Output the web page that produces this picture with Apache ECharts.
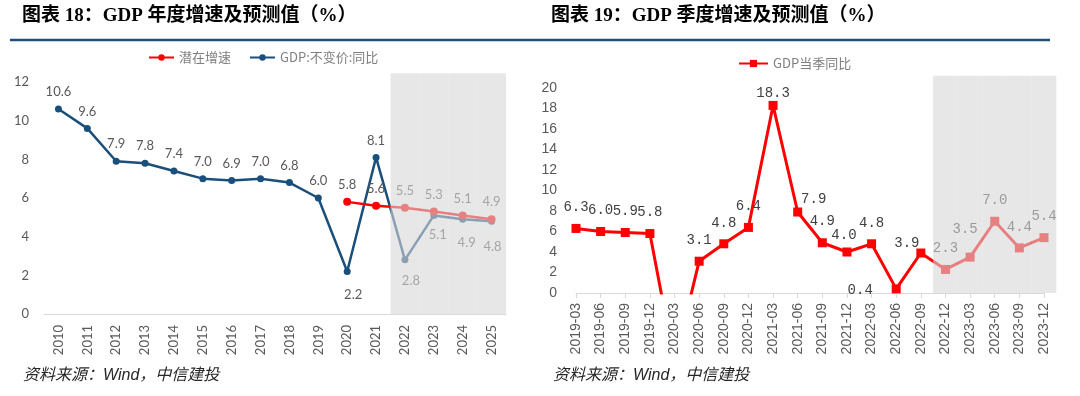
<!DOCTYPE html>
<html>
<head>
<meta charset="utf-8">
<script src="https://cdn.jsdelivr.net/npm/echarts@6/dist/echarts.min.js"></script>
<style>
html, body { margin: 0; padding: 0; background: #fff; }
#chart { width: 1080px; height: 396px; }
</style>
</head>
<body>
<div id="chart"></div>
<script>
// 图表18 年度数据
const years = ['2010', '2011', '2012', '2013', '2014', '2015', '2016', '2017',
  '2018', '2019', '2020', '2021', '2022', '2023', '2024', '2025']
const gdpYoy = [10.6, 9.6, 7.9, 7.8, 7.4, 7.0, 6.9, 7.0, 6.8, 6.0, 2.2, 8.1, 2.8, 5.1, 4.9, 4.8]
const potentialGrowth = [null, null, null, null, null, null, null, null, null, null,
  5.8, 5.6, 5.5, 5.3, 5.1, 4.9]
const yearAxisTicks = { min: 0, max: 12, interval: 2 }
const yearForecastFrom = '2022'
const yearShadeTop = 12.45

// 图表19 季度数据
const quarters = ['2019-03', '2019-06', '2019-09', '2019-12', '2020-03', '2020-06', '2020-09',
  '2020-12', '2021-03', '2021-06', '2021-09', '2021-12', '2022-03', '2022-06', '2022-09',
  '2022-12', '2023-03', '2023-06', '2023-09', '2023-12']
const gdpQuarterYoy = [6.3, 6.0, 5.9, 5.8, -6.8, 3.1, 4.8, 6.4, 18.3, 7.9, 4.9, 4.0, 4.8, 0.4, 3.9,
  2.3, 3.5, 7.0, 4.4, 5.4]
const quarterAxisTicks = { min: 0, max: 20, interval: 2 }
const quarterForecastFrom = '2022-12'
const quarterShadeTop = 21.2

// label placement tweaks (index -> [dx, dy] from point centre)
const gdpLabelOffset = { 10: [6, 23], 12: [6, 21], 13: [4, 19], 14: [4, 24], 15: [1, 26] }
const quarterLabelOffset = { 8: [0, -12], 9: [16, -13], 11: [-3, -17], 13: [-36, 1], 14: [-14, -10], 16: [-5, -28] }

const shadeColor = 'rgba(215, 215, 215, 0.6)'
const axisGrey = '#d9d9d9'

function withLabels(values, offsets, defaultOffset, minVal) {
  return values.map((v, i) => {
    if (v === null) return '-'
    const off = offsets[i] || defaultOffset
    return {
      value: v,
      label: { show: v >= minVal, offset: off }
    }
  })
}

function shadeData(cats, from, top) {
  const start = cats.indexOf(from)
  return cats.map((c, i) => (i >= start ? top : '-'))
}

const chart = echarts.init(document.getElementById('chart'))

const yearLabel = {
  show: true,
  position: 'inside',
  color: '#595959',
  fontFamily: 'Lato',
  fontSize: 13,
  formatter: p => Number(p.value).toFixed(1)
}

const quarterLabel = {
  show: true,
  position: 'inside',
  color: '#404040',
  fontFamily: 'Liberation Mono',
  fontSize: 14,
  formatter: p => Number(p.value).toFixed(1)
}

const titleFont = 'bold 19px "Liberation Serif", "Noto Sans CJK SC"'
const sourceFont = 'italic 16px "Liberation Sans", "Noto Sans CJK SC"'

const option = {
  animation: false,
  backgroundColor: '#fff',
  graphic: [
    {
      type: 'text', left: 22, top: 7,
      style: { text: '图表 18：GDP 年度增速及预测值（%）', font: titleFont, fill: '#000' }
    },
    {
      type: 'text', left: 551, top: 7,
      style: { text: '图表 19：GDP 季度增速及预测值（%）', font: titleFont, fill: '#000' }
    },
    {
      type: 'line',
      shape: { x1: 10, y1: 40, x2: 1050, y2: 40 },
      style: { stroke: '#1f4e79', lineWidth: 2.5 }
    },
    {
      type: 'text', left: 23, top: 368,
      style: { text: '资料来源：Wind，中信建投', font: sourceFont, fill: '#262626' }
    },
    {
      type: 'text', left: 553, top: 368,
      style: { text: '资料来源：Wind，中信建投', font: sourceFont, fill: '#262626' }
    }
  ],
  legend: [
    {
      data: ['潜在增速', 'GDP:不变价:同比'],
      left: 143, top: 46,
      itemWidth: 25, itemHeight: 8, itemGap: 18,
      textStyle: { color: '#7f7f7f', fontSize: 13, fontFamily: 'Noto Sans CJK SC' }
    },
    {
      data: ['GDP当季同比'],
      left: 733, top: 52,
      itemWidth: 29, itemHeight: 9,
      textStyle: { color: '#7f7f7f', fontSize: 13, fontFamily: 'Noto Sans CJK SC' }
    }
  ],
  grid: [
    { left: 44, top: 82, width: 462, height: 232 },
    { left: 576, top: 88, width: 468, height: 205 }
  ],
  xAxis: [
    {
      gridIndex: 0,
      type: 'category',
      data: years,
      boundaryGap: true,
      axisLine: { lineStyle: { color: axisGrey } },
      axisTick: { length: 5, lineStyle: { color: axisGrey } },
      axisLabel: { rotate: 90, margin: 11, color: '#595959', fontFamily: 'Lato', fontSize: 13, interval: 0 }
    },
    {
      gridIndex: 1,
      type: 'category',
      data: quarters,
      boundaryGap: false,
      axisLine: { lineStyle: { color: axisGrey } },
      axisTick: { length: 5, interval: 0, lineStyle: { color: axisGrey } },
      axisLabel: { rotate: 90, margin: 10, color: '#595959', fontFamily: 'Liberation Sans', fontSize: 14, interval: 0 }
    }
  ],
  yAxis: [
    {
      gridIndex: 0,
      type: 'value',
      min: yearAxisTicks.min, max: yearAxisTicks.max, interval: yearAxisTicks.interval,
      axisLine: { show: false },
      axisTick: { show: false },
      splitLine: { show: false },
      axisLabel: { margin: 15, color: '#595959', fontFamily: 'Lato', fontSize: 13 }
    },
    {
      gridIndex: 1,
      type: 'value',
      min: quarterAxisTicks.min, max: quarterAxisTicks.max, interval: quarterAxisTicks.interval,
      axisLine: { show: false },
      axisTick: { show: false },
      splitLine: { show: false },
      axisLabel: { margin: 19, color: '#595959', fontFamily: 'Liberation Sans', fontSize: 14 }
    }
  ],
  series: [
    {
      name: 'GDP:不变价:同比',
      type: 'line',
      xAxisIndex: 0, yAxisIndex: 0,
      data: withLabels(gdpYoy, gdpLabelOffset, [0, -17], yearAxisTicks.min),
      symbol: 'circle', symbolSize: 7,
      itemStyle: { color: '#1a4f7c' },
      lineStyle: { color: '#1a4f7c', width: 2.5 },
      label: yearLabel,
      z: 2
    },
    {
      name: '潜在增速',
      type: 'line',
      xAxisIndex: 0, yAxisIndex: 0,
      data: withLabels(potentialGrowth, {}, [0, -17], yearAxisTicks.min),
      symbol: 'circle', symbolSize: 8,
      itemStyle: { color: '#ff0000' },
      lineStyle: { color: '#ff0000', width: 2.5 },
      label: yearLabel,
      z: 3
    },
    {
      name: 'yearShade',
      type: 'bar',
      xAxisIndex: 0, yAxisIndex: 0,
      data: shadeData(years, yearForecastFrom, yearShadeTop),
      barWidth: '100%',
      clip: false,
      silent: true,
      itemStyle: { color: shadeColor },
      z: 10
    },
    {
      name: 'GDP当季同比',
      type: 'line',
      xAxisIndex: 1, yAxisIndex: 1,
      data: withLabels(gdpQuarterYoy, quarterLabelOffset, [0, -21], quarterAxisTicks.min),
      symbol: 'rect', symbolSize: 9,
      itemStyle: { color: '#ff0000' },
      lineStyle: { color: '#ff0000', width: 3 },
      label: quarterLabel,
      z: 2
    },
    {
      name: 'quarterShade',
      type: 'bar',
      xAxisIndex: 1, yAxisIndex: 1,
      data: shadeData(quarters, quarterForecastFrom, quarterShadeTop),
      barWidth: '100%',
      clip: false,
      silent: true,
      itemStyle: { color: shadeColor },
      z: 10
    }
  ]
}

chart.setOption(option)
</script>
</body>
</html>
